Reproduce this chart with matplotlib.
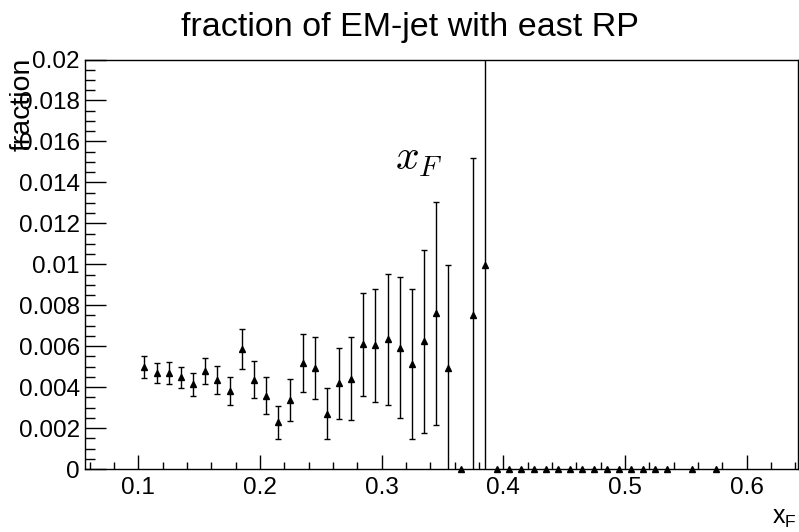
import matplotlib
matplotlib.use('Agg')
import matplotlib.pyplot as plt
from matplotlib.ticker import MultipleLocator, FuncFormatter

# bin centres and fraction values
xf = [0.105, 0.115, 0.125, 0.135, 0.145, 0.155, 0.165, 0.175, 0.185, 0.195,
      0.205, 0.215, 0.225, 0.235, 0.245, 0.255, 0.265, 0.275, 0.285, 0.295,
      0.305, 0.315, 0.325, 0.335, 0.345, 0.355, 0.375, 0.385]
frac = [0.00497, 0.00469, 0.00467, 0.00448, 0.00413, 0.00477, 0.00436, 0.00381, 0.00587, 0.00436,
        0.00359, 0.00229, 0.00338, 0.00518, 0.00493, 0.00270, 0.00418, 0.00441, 0.00609, 0.00604,
        0.00634, 0.00593, 0.00513, 0.00623, 0.00761, 0.00493, 0.00753, 0.00995]
frac_err = [0.00053, 0.00050, 0.00054, 0.00050, 0.00056, 0.00064, 0.00068, 0.00070, 0.00097, 0.00091,
            0.00090, 0.00081, 0.00103, 0.00141, 0.00151, 0.00125, 0.00174, 0.00202, 0.00250, 0.00275,
            0.00320, 0.00344, 0.00368, 0.00445, 0.00544, 0.00505, 0.00765, 0.01010]

# bins with zero fraction
xf_zero = [0.365, 0.395, 0.405, 0.415, 0.425, 0.435, 0.445, 0.455, 0.465, 0.475,
           0.485, 0.495, 0.505, 0.515, 0.525, 0.535, 0.555, 0.575]
frac_zero = [0.0] * len(xf_zero)

plt.rcParams['font.family'] = ['Liberation Sans', 'DejaVu Sans']

fig = plt.figure(figsize=(7.99, 5.32), dpi=100)
ax = fig.add_axes([0.107, 0.1184, 0.892, 0.7697])

# error bars (clipped at the frame), markers drawn on top without clipping
ax.errorbar(xf, frac, yerr=frac_err, fmt='none', ecolor='black',
            elinewidth=1, capsize=2, capthick=1)
ax.plot(xf, frac, '^', color='black', markersize=5, clip_on=False, zorder=3)
ax.plot(xf_zero, frac_zero, '^', color='black', markersize=5, clip_on=False, zorder=3)

ax.set_xlim(0.0566, 0.6425)
ax.set_ylim(0, 0.02)

ax.xaxis.set_major_locator(MultipleLocator(0.1))
ax.xaxis.set_minor_locator(MultipleLocator(0.02))
ax.yaxis.set_major_locator(MultipleLocator(0.002))
ax.yaxis.set_minor_locator(MultipleLocator(0.0005))
fmt = FuncFormatter(lambda v, p: '%g' % round(v, 4))
ax.xaxis.set_major_formatter(fmt)
ax.yaxis.set_major_formatter(fmt)

ax.tick_params(axis='both', which='both', direction='in', top=False, right=False,
               labelsize=17.5, width=1)
ax.tick_params(axis='x', which='major', length=10, pad=6)
ax.tick_params(axis='x', which='minor', length=5)
ax.tick_params(axis='y', which='major', length=15, pad=4)
ax.tick_params(axis='y', which='minor', length=7)
for s in ax.spines.values():
    s.set_linewidth(1)

# titles, ROOT-like placement (the y title overlaps the tick labels, as in the original)
fig.text(410 / 799, 1 - 36 / 532, 'fraction of EM-jet with east RP',
         ha='center', va='baseline', fontsize=24.5)
fig.text(0.028, 1 - 58 / 532, 'fraction', rotation=90, ha='center', va='top', fontsize=20.5)
fig.text(797 / 799, 1 - 524 / 532, 'x$_\\mathregular{F}$', ha='right', va='baseline', fontsize=18)

# latex label inside the frame
ax.text(0.311, 0.0146, '$x_F$', fontsize=30, ha='left', va='baseline',
        math_fontfamily='cm')

fig.savefig('out.png', dpi=100)
